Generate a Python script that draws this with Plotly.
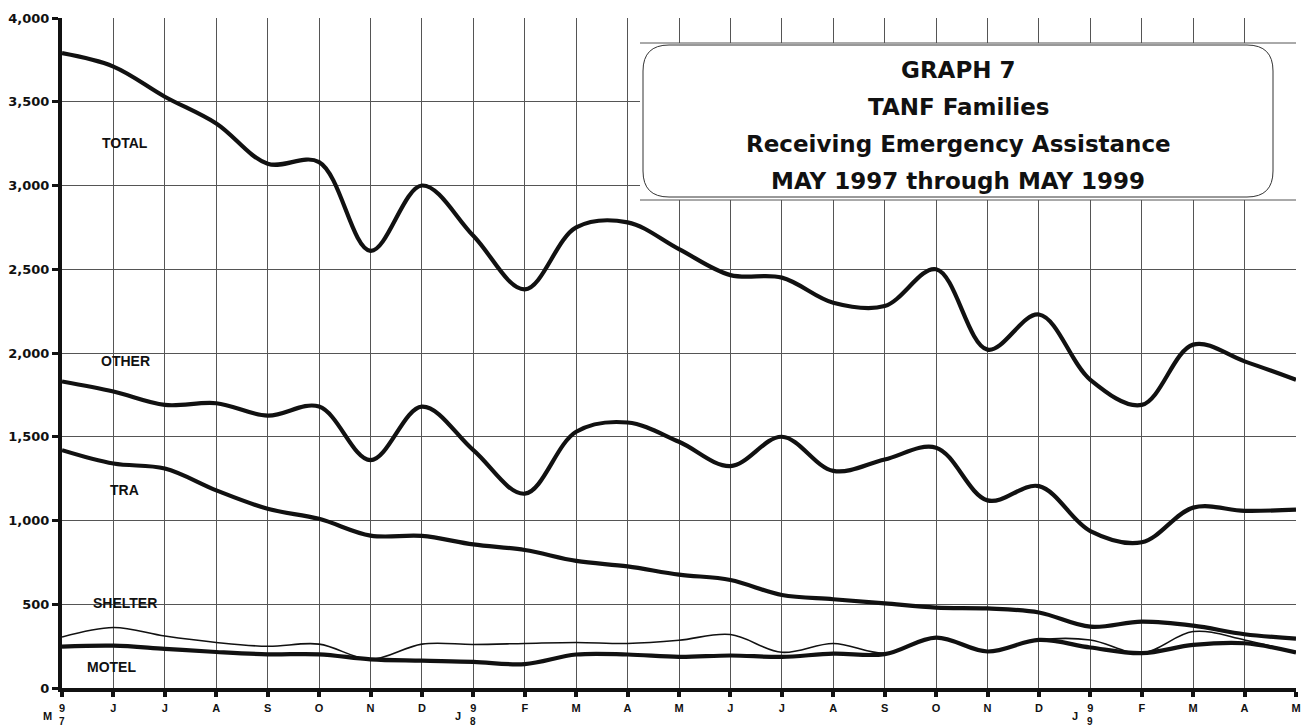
import plotly.graph_objects as go

# ---- data ----
month_letters = ["M", "J", "J", "A", "S", "O", "N", "D", "J", "F", "M", "A", "M",
                 "J", "J", "A", "S", "O", "N", "D", "J", "F", "M", "A", "M"]
year_marks = {0: ("M", "9", "7"), 8: ("J", "9", "8"), 20: ("J", "9", "9")}

total = [3790, 3710, 3530, 3370, 3130, 3140, 2610, 3000, 2700, 2380, 2750, 2780, 2620,
         2465, 2450, 2300, 2280, 2500, 2020, 2230, 1840, 1690, 2050, 1950, 1840]
other = [1830, 1770, 1690, 1700, 1626, 1680, 1360, 1680, 1420, 1160, 1530, 1585, 1470,
         1325, 1500, 1296, 1364, 1435, 1120, 1205, 937, 870, 1077, 1058, 1065]
tra = [1420, 1340, 1310, 1180, 1070, 1010, 910, 908, 857, 824, 759, 726, 677,
       645, 555, 530, 505, 480, 475, 451, 366, 396, 372, 321, 295]
shelter = [304, 361, 310, 272, 249, 262, 171, 262, 260, 266, 272, 266, 285,
           319, 213, 266, 208, 301, 218, 287, 287, 208, 337, 287, 212]
motel = [247, 253, 234, 215, 201, 201, 171, 163, 156, 143, 200, 200, 186,
         194, 186, 205, 202, 301, 218, 287, 242, 208, 257, 267, 212]

series_labels = [("TOTAL", 1.23, 3254), ("OTHER", 1.24, 1952), ("TRA", 1.22, 1182),
                 ("SHELTER", 1.22, 505), ("MOTEL", 0.97, 125)]

title_lines = ["GRAPH 7", "TANF Families", "Receiving Emergency Assistance",
               "MAY 1997 through MAY 1999"]

y_ticks = list(range(0, 4001, 500))
y_ticktext = [f"{v:,}" for v in y_ticks]

x = list(range(len(month_letters)))
ink = "#111111"

fig = go.Figure()
for vals, w in [(total, 4.2), (other, 4.2), (tra, 4.2), (motel, 4.2), (shelter, 1.6)]:
    fig.add_trace(go.Scatter(x=x, y=vals, mode="lines",
                             line=dict(color=ink, width=w, shape="spline", smoothing=1.0),
                             cliponaxis=False, showlegend=False, hoverinfo="skip"))

ticktext = []
for i, m in enumerate(month_letters):
    ticktext.append(year_marks[i][1] if i in year_marks else m)

fig.update_layout(
    width=1302, height=727,
    margin=dict(l=62, r=6, t=18, b=39),
    paper_bgcolor="white", plot_bgcolor="white",
    showlegend=False,
    xaxis=dict(range=[0, 24], tickmode="array", tickvals=x, ticktext=ticktext,
               showgrid=True, gridcolor="#555555", gridwidth=1,
               showline=True, linecolor=ink, linewidth=4,
               ticks="outside", ticklen=5, tickwidth=4, tickcolor=ink,
               ticklabelstandoff=2,
               tickfont=dict(family="Liberation Sans", size=11, color=ink, weight="bold"),
               zeroline=False, fixedrange=True, automargin=False),
    yaxis=dict(range=[0, 4000], tickmode="array", tickvals=y_ticks, ticktext=y_ticktext,
               showgrid=True, gridcolor="#555555", gridwidth=1,
               showline=True, linecolor=ink, linewidth=4,
               ticks="outside", ticklen=6, tickwidth=3, tickcolor=ink,
               tickfont=dict(family="DejaVu Sans", size=13, color=ink, weight="bold"),
               zeroline=False, fixedrange=True, automargin=False),
)

# year-start tick label pieces
for i, (letter, d1, d2) in year_marks.items():
    fig.add_annotation(x=i, y=0, xref="x", yref="paper", text=d2, showarrow=False,
                       yanchor="middle", yshift=-33,
                       font=dict(family="Liberation Sans", size=10, color=ink, weight="bold"))
    fig.add_annotation(x=i, y=0, xref="x", yref="paper", text=letter, showarrow=False,
                       yanchor="middle", yshift=-28, xshift=-15,
                       font=dict(family="Liberation Sans", size=11, color=ink, weight="bold"))

# series labels
for name, lx, ly in series_labels:
    fig.add_annotation(x=lx, y=ly, xref="x", yref="y", text=name, showarrow=False,
                       font=dict(family="Liberation Sans", size=14, color=ink, weight="bold"))

# title box (coordinates in reference pixels, converted to paper units)
pw, ph = 1234.0, 670.0
def px2paper(px, py):
    return (px - 62) / pw, (688 - py) / ph

bx0, by0 = px2paper(640, 43)
bx1, by1 = px2paper(1296, 200)
fig.add_shape(type="rect", xref="paper", yref="paper", x0=bx0, y0=by1, x1=bx1, y1=by0,
              fillcolor="white", line=dict(width=0), layer="above")
for yy in (by0, by1):
    fig.add_shape(type="line", xref="paper", yref="paper", x0=bx0, x1=bx1, y0=yy, y1=yy,
                  line=dict(color="#555555", width=1), layer="above")

x0, yt = px2paper(643, 45)
x1, yb = px2paper(1273, 197)
rx, ry = 26 / pw, 26 / ph
path = (f"M {x0+rx},{yt} L {x1-rx},{yt} Q {x1},{yt} {x1},{yt-ry} "
        f"L {x1},{yb+ry} Q {x1},{yb} {x1-rx},{yb} "
        f"L {x0+rx},{yb} Q {x0},{yb} {x0},{yb+ry} "
        f"L {x0},{yt-ry} Q {x0},{yt} {x0+rx},{yt} Z")
fig.add_shape(type="path", xref="paper", yref="paper", path=path,
              fillcolor="white", line=dict(color="#333333", width=1), layer="above")

cx = (958 - 62) / pw
for k, t in enumerate(title_lines):
    _, ty = px2paper(0, 70 + k * 37)
    fig.add_annotation(x=cx, y=ty, xref="paper", yref="paper", text=t, showarrow=False,
                       xanchor="center", yanchor="middle",
                       font=dict(family="DejaVu Sans", size=23, color=ink, weight="bold"))

# let the 1302x727 figure fill the window exactly (no default page margin)
fig.write_html("out.html",
               config={"displayModeBar": False},
               post_script="document.body.style.margin='0';"
                           "document.body.style.overflow='hidden';")
